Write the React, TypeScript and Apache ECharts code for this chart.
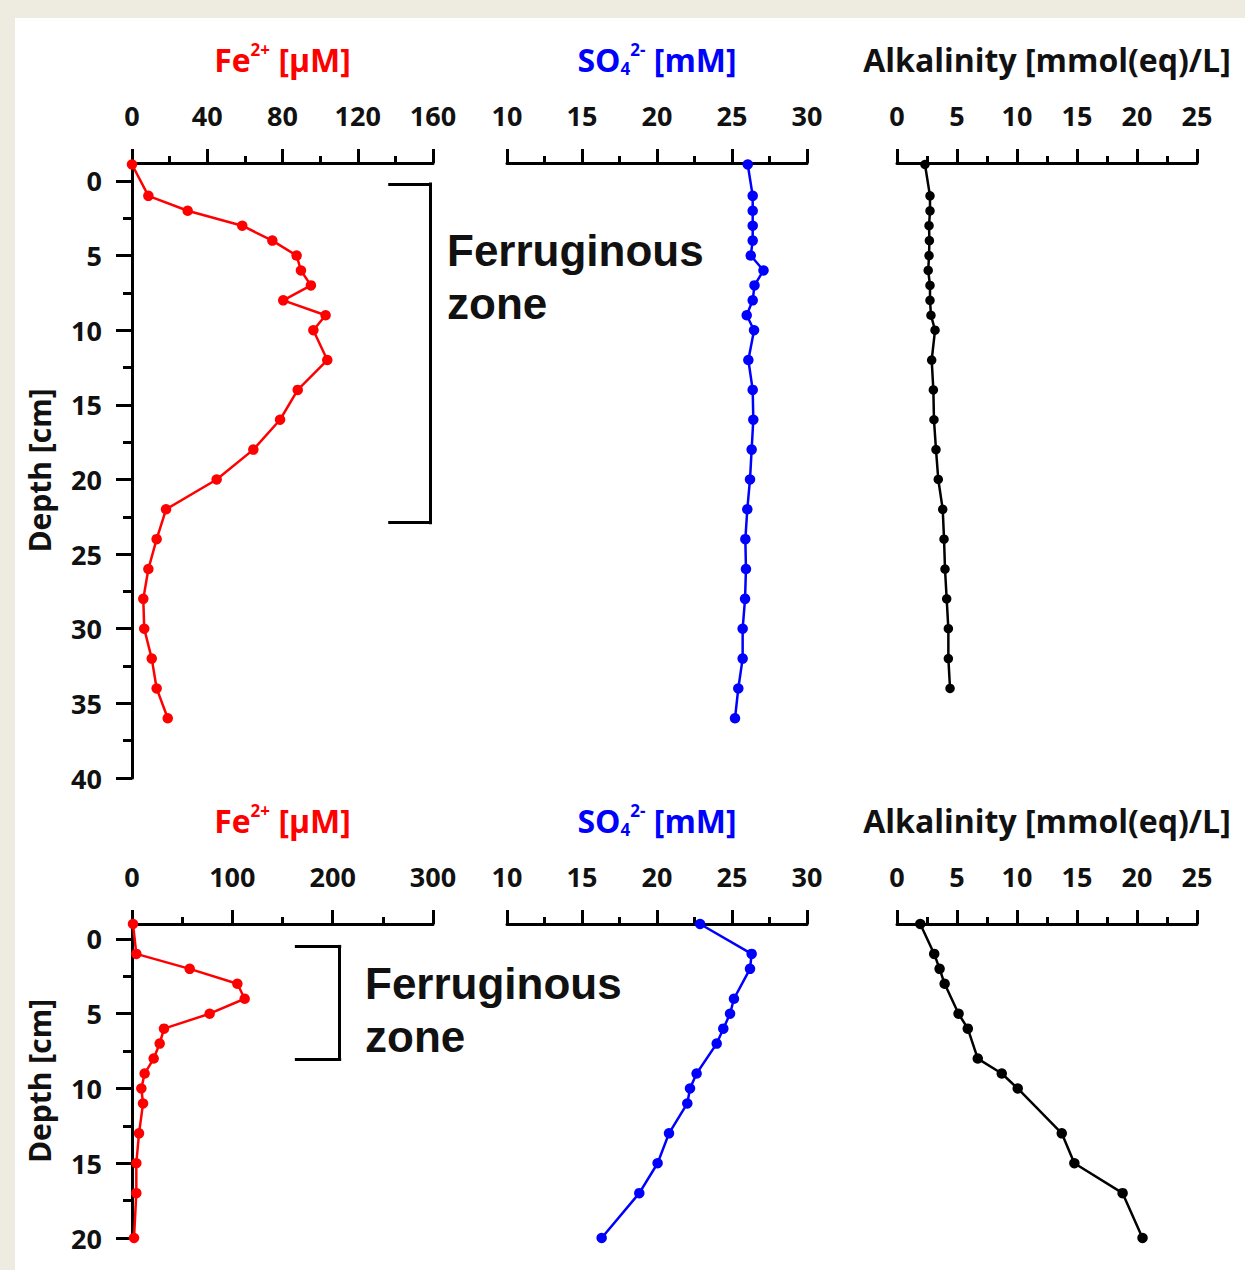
import React, { useEffect, useRef } from "react";
import * as echarts from "echarts";

// ---------- Data ----------
// Upper core
const topDepthFeSO4 = [-1.1, 1, 2, 3, 4, 5, 6, 7, 8, 9, 10, 12, 14, 16, 18, 20, 22, 24, 26, 28, 30, 32, 34, 36];
const topFe = [0, 8.7, 29.6, 58.6, 74.6, 87.5, 89.8, 95.1, 80.4, 102.9, 96.4, 103.8, 88.1, 78.7, 64.5, 45, 18.1, 13.1, 8.7, 6, 6.5, 10.5, 13.1, 19];
const topSO4 = [26.05, 26.38, 26.38, 26.38, 26.38, 26.25, 27.1, 26.5, 26.38, 25.98, 26.47, 26.09, 26.38, 26.42, 26.31, 26.2, 26.02, 25.89, 25.93, 25.87, 25.71, 25.71, 25.42, 25.2];
const topDepthAlk = [-1.1, 1, 2, 3, 4, 5, 6, 7, 8, 9, 10, 12, 14, 16, 18, 20, 22, 24, 26, 28, 30, 32, 34];
const topAlk = [2.33, 2.75, 2.75, 2.67, 2.7, 2.67, 2.6, 2.75, 2.75, 2.83, 3.17, 2.89, 3.03, 3.08, 3.25, 3.44, 3.81, 3.92, 4.0, 4.14, 4.28, 4.28, 4.42];

// Lower core
const botDepthFe = [-1, 1, 2, 3, 4, 5, 6, 7, 8, 9, 10, 11, 13, 15, 17, 20];
const botFe = [1, 4.3, 57.5, 105, 112.3, 77.4, 31.9, 27.6, 21.6, 12.6, 9.3, 11, 7, 4.3, 4.3, 2];
const botDepthSO4 = [-1, 1, 2, 4, 5, 6, 7, 9, 10, 11, 13, 15, 17, 20];
const botSO4 = [22.87, 26.31, 26.2, 25.13, 24.87, 24.42, 23.98, 22.64, 22.2, 22.02, 20.8, 20.04, 18.82, 16.31];
const botDepthAlk = [-1, 1, 2, 3, 5, 6, 8, 9, 10, 13, 15, 17, 20];
const botAlk = [1.94, 3.1, 3.55, 3.97, 5.13, 5.9, 6.73, 8.73, 10.06, 13.73, 14.78, 18.8, 20.46];

// Axis ranges / ticks
const topDepthRange = [-1.2, 40];
const botDepthRange = [-1.0, 20];
const topDepthTicks = [0, 5, 10, 15, 20, 25, 30, 35, 40];
const topDepthMinor = [2.5, 7.5, 12.5, 17.5, 22.5, 27.5, 32.5, 37.5];
const botDepthTicks = [0, 5, 10, 15, 20];
const botDepthMinor = [2.5, 7.5, 12.5, 17.5];
const feTopRange = [0, 160, 40];
const feBotRange = [0, 300, 100];
const so4Range = [10, 30, 5];
const alkRange = [0, 25, 5];

// Ferruginous zone brackets: [xLeft, xRight, depthTop, depthBottom] in Fe units / cm
const topZone = [137, 158.4, 0.2, 22.9];
const botZone = [163.8, 207, 0.5, 8.05];

const FONT = '"Open Sans", "Liberation Sans", sans-serif';
const RED = "#ff0000";
const BLUE = "#0000ff";
const BLACK = "#111111";

function richFor(color: string) {
  return {
    n: { fontSize: 32, fontWeight: "bold", fontFamily: FONT, color, lineHeight: 36 },
    sup: { fontSize: 17, fontWeight: "bold", fontFamily: FONT, color, lineHeight: 26, verticalAlign: "top" },
    sub: { fontSize: 17, fontWeight: "bold", fontFamily: FONT, color, lineHeight: 12, verticalAlign: "bottom" },
  };
}

const tickLabel = { fontSize: 27, fontWeight: "bold", fontFamily: FONT, color: BLACK };
const blackLine = { color: "#000", width: 3 };

function xAxis(gridIndex: number, range: number[], name: string, color: string) {
  return {
    gridIndex,
    type: "value",
    position: "top",
    min: range[0],
    max: range[1],
    interval: range[2],
    name,
    nameLocation: "middle",
    nameGap: 86,
    nameMoveOverlap: false,
    nameTextStyle: { rich: richFor(color) },
    axisLine: { show: true, onZero: false, lineStyle: blackLine },
    axisTick: { show: true, length: 14, lineStyle: blackLine },
    minorTick: { show: true, splitNumber: 2, length: 7, lineStyle: blackLine },
    axisLabel: { show: true, margin: 34, ...tickLabel },
    splitLine: { show: false },
    minorSplitLine: { show: false },
  };
}

function yMain(gridIndex: number, range: number[], ticks: number[]) {
  return {
    gridIndex,
    type: "value",
    inverse: true,
    position: "left",
    min: range[0],
    max: range[1],
    name: "Depth [cm]",
    nameLocation: "middle",
    nameGap: 78,
    nameMoveOverlap: false,
    nameTextStyle: { fontSize: 30, fontWeight: "bold", fontFamily: FONT, color: BLACK },
    axisLine: { show: true, onZero: false, lineStyle: blackLine },
    axisTick: { show: true, customValues: ticks, length: 16, lineStyle: blackLine },
    axisLabel: { show: true, customValues: ticks, margin: 30, ...tickLabel },
    splitLine: { show: false },
  };
}

function yMinor(gridIndex: number, range: number[], ticks: number[]) {
  return {
    gridIndex,
    type: "value",
    inverse: true,
    position: "left",
    offset: 0,
    min: range[0],
    max: range[1],
    axisLine: { show: false, onZero: false },
    axisTick: { show: true, customValues: ticks, length: 9, lineStyle: blackLine },
    axisLabel: { show: false },
    splitLine: { show: false },
  };
}

function yHidden(gridIndex: number, range: number[]) {
  return { gridIndex, type: "value", inverse: true, min: range[0], max: range[1], show: false };
}

function pairs(xs: number[], ys: number[]) {
  return xs.map((v, i) => [v, ys[i]]);
}

function bracket(z: number[]) {
  const [x1, x2, y1, y2] = z;
  return [
    [{ coord: [x1, y1] }, { coord: [x2, y1] }],
    [{ coord: [x2, y1] }, { coord: [x2, y2] }],
    [{ coord: [x2, y2] }, { coord: [x1, y2] }],
  ];
}

function lineSeries(name: string, xi: number, yi: number, data: number[][], color: string, size: number, zone?: number[]) {
  const s: any = {
    name,
    type: "line",
    xAxisIndex: xi,
    yAxisIndex: yi,
    data,
    clip: false,
    symbol: "circle",
    symbolSize: size,
    showSymbol: true,
    itemStyle: { color },
    lineStyle: { color, width: 2.5 },
    z: 5,
  };
  if (zone) {
    s.markLine = {
      silent: true,
      symbol: ["none", "none"],
      label: { show: false },
      lineStyle: { color: "#000", width: 3, type: "solid", cap: "square" },
      data: bracket(zone),
    };
  }
  return s;
}

const grids = [
  { left: 132, top: 163, width: 301, height: 615 },
  { left: 507, top: 163, width: 300, height: 615 },
  { left: 897, top: 163, width: 300, height: 615 },
  { left: 132, top: 924, width: 301, height: 314 },
  { left: 507, top: 924, width: 300, height: 314 },
  { left: 897, top: 924, width: 300, height: 314 },
].map((g) => ({ ...g, containLabel: false, outerBoundsMode: "none" }));

const FE_NAME = "{n|Fe}{sup|2+}{n| [µM]}";
const SO4_NAME = "{n|SO}{sub|4}{sup|2-}{n| [mM]}";
const ALK_NAME = "{n|Alkalinity [mmol(eq)/L]}";

export default function App() {
  const ref = useRef<HTMLDivElement>(null);
  useEffect(() => {
    if (!ref.current) return;
    const chart = echarts.init(ref.current, undefined, { renderer: "svg" });
    const zoneFont = 'bold 44px "Liberation Sans", Arial, sans-serif';
    const option: any = {
      animation: false,
      backgroundColor: "#ffffff",
      grid: grids,
      xAxis: [
        xAxis(0, feTopRange, FE_NAME, RED),
        xAxis(1, so4Range, SO4_NAME, BLUE),
        xAxis(2, alkRange, ALK_NAME, BLACK),
        xAxis(3, feBotRange, FE_NAME, RED),
        xAxis(4, so4Range, SO4_NAME, BLUE),
        xAxis(5, alkRange, ALK_NAME, BLACK),
      ],
      yAxis: [
        yMain(0, topDepthRange, topDepthTicks),
        yMinor(0, topDepthRange, topDepthMinor),
        yHidden(1, topDepthRange),
        yHidden(2, topDepthRange),
        yMain(3, botDepthRange, botDepthTicks),
        yMinor(3, botDepthRange, botDepthMinor),
        yHidden(4, botDepthRange),
        yHidden(5, botDepthRange),
      ],
      series: [
        lineSeries("Fe top", 0, 0, pairs(topFe, topDepthFeSO4), RED, 10.5, topZone),
        lineSeries("SO4 top", 1, 2, pairs(topSO4, topDepthFeSO4), BLUE, 10.5),
        lineSeries("Alk top", 2, 3, pairs(topAlk, topDepthAlk), "#000", 9.5),
        lineSeries("Fe bottom", 3, 4, pairs(botFe, botDepthFe), RED, 10.5, botZone),
        lineSeries("SO4 bottom", 4, 6, pairs(botSO4, botDepthSO4), BLUE, 10.5),
        lineSeries("Alk bottom", 5, 7, pairs(botAlk, botDepthAlk), "#000", 10.5),
      ],
      graphic: [
        { type: "rect", silent: true, z: 100, shape: { x: 0, y: 0, width: 1245, height: 18 }, style: { fill: "#eeebe0" } },
        { type: "rect", silent: true, z: 100, shape: { x: 0, y: 0, width: 15, height: 1270 }, style: { fill: "#eeebe0" } },
        {
          type: "text",
          x: 447,
          y: 224,
          style: { text: "Ferruginous\nzone", font: zoneFont, fill: "#111", lineHeight: 53, verticalAlign: "top", align: "left" },
        },
        {
          type: "text",
          x: 365,
          y: 957,
          style: { text: "Ferruginous\nzone", font: zoneFont, fill: "#111", lineHeight: 53, verticalAlign: "top", align: "left" },
        },
      ],
    };
    chart.setOption(option);
    return () => chart.dispose();
  }, []);
  return <div ref={ref} style={{ position: "absolute", left: 0, top: 0, width: 1245, height: 1270 }} />;
}
